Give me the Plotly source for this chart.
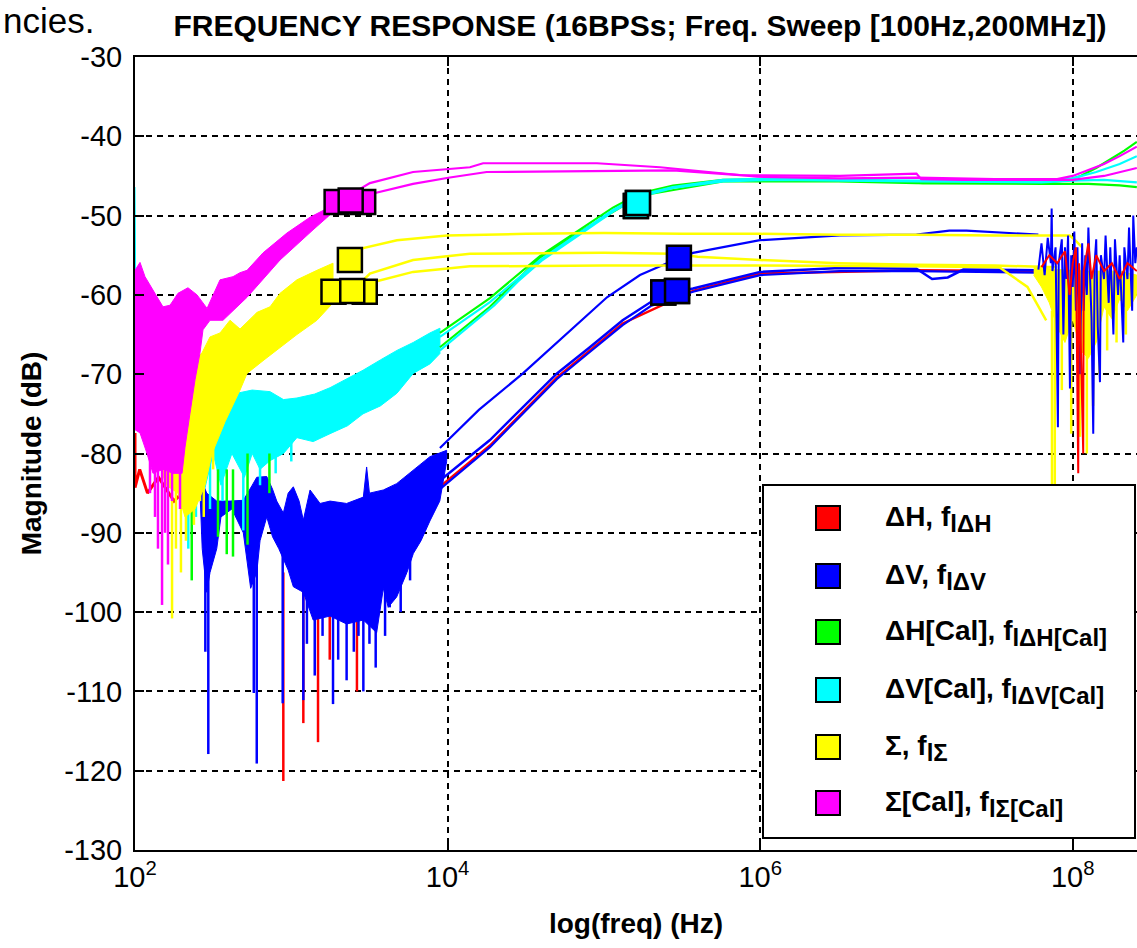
import plotly.graph_objects as go

# ---------------- data: log10(frequency / Hz) and magnitude (dB) ----------------
# Sigma[Cal] (magenta)
mag_band_lf = [2.0, 2.032, 2.064, 2.115, 2.179, 2.224, 2.275, 2.339, 2.397, 2.461, 2.499, 2.544,
               2.627, 2.672, 2.717, 2.819, 2.972, 3.12, 3.248,
               3.248, 3.139, 2.928, 2.717, 2.563, 2.48, 2.435, 2.416, 2.384, 2.352, 2.32, 2.301,
               2.243, 2.179, 2.115, 2.077, 2.032, 2.0]
mag_band_db = [-56.9, -55.9, -57.7, -59.4, -61.5, -61.3, -59.8, -59.1, -60.0, -61.7, -60.0, -58.1,
               -57.7, -57.2, -56.9, -54.7, -52.2, -50.2, -48.9,
               -49.9, -51.8, -55.6, -60.3, -63.2, -63.2, -64.4, -67.3, -70.7, -74.9, -79.2, -82.5,
               -82.5, -82.0, -82.5, -80.0, -77.4, -77.0]
mag_spk_lf = [2.096, 2.128, 2.147, 2.173, 2.192, 2.211, 2.237, 2.288]
mag_spk_base = [-80, -80, -80, -80, -80, -80, -80, -80]
mag_spk_tip = [-85, -88, -92, -99.1, -90, -94, -86, -87]
mag1_lf = [3.248, 3.503, 3.779, 4.143, 4.227, 4.956, 5.359, 5.762, 5.98, 6.51, 7.0, 7.5, 7.9, 8.0, 8.1, 8.2, 8.3, 8.41]
mag1_db = [-48.9, -45.9, -44.5, -43.9, -43.4, -43.4, -43.9, -44.7, -45.1, -45.3, -45.2, -45.4, -45.4, -45.0, -44.3, -43.5, -42.5, -41.3]
mag2_lf = [3.248, 3.503, 3.779, 4.015, 4.25, 5.442, 5.87, 6.51, 7.0, 7.03, 7.3, 8.0, 8.2, 8.41]
mag2_db = [-49.7, -47.3, -46.0, -45.2, -44.5, -44.3, -44.9, -45.0, -44.7, -45.4, -45.5, -45.5, -45.0, -44.0]
mag_mk_lf = [3.29, 3.46, 3.38]
mag_mk_db = [-48.3, -48.3, -48.1]

# Sigma (yellow)
yel_band_lf = [2.275, 2.32, 2.365, 2.429, 2.48, 2.544, 2.608, 2.672, 2.781, 2.864, 2.928, 3.036, 3.164, 3.267,
               3.267, 3.164, 3.036, 2.928, 2.819, 2.717, 2.672, 2.576, 2.493, 2.448, 2.384, 2.32, 2.275,
               2.2, 2.1, 2.03, 2.03, 2.1, 2.2]
yel_band_db = [-72.0, -70.5, -68.5, -67.3, -65.3, -64.8, -63.2, -64.3, -62.2, -61.5, -59.8, -58.1, -56.9, -56.0,
               -61.0, -63.2, -65.0, -66.6, -68.3, -69.9, -72.0, -76.0, -80.0, -84.0, -87.0, -88.0, -85.0,
               -84.0, -78.0, -75.0, -71.0, -72.0, -73.0]
yel_spk_lf = [2.237, 2.262, 2.294, 2.326, 2.377, 2.416, 2.44, 2.50]
yel_spk_base = [-84, -84, -84, -84, -84, -84, -82, -78]
yel_spk_tip = [-100.8, -92, -95, -91, -89, -86, -88, -82]
yel1_lf = [3.375, 3.46, 3.676, 3.996, 4.5, 5.0, 5.5, 6.0, 6.5, 7.0, 7.5, 7.98, 8.02, 8.06]
yel1_db = [-55.6, -54.1, -53.1, -52.5, -52.3, -52.2, -52.3, -52.3, -52.4, -52.4, -52.5, -52.5, -53.2, -54.0]
yel2_lf = [3.39, 3.503, 3.779, 4.143, 5.0, 5.45, 5.6, 6.0, 6.5, 7.0, 7.5, 7.9]
yel2_db = [-59.5, -57.3, -55.6, -54.8, -54.7, -54.8, -55.2, -55.6, -56.0, -56.2, -56.3, -56.5]
yel3_lf = [3.39, 3.503, 3.779, 4.143, 5.0, 6.0, 7.0, 7.53, 7.71, 7.83]
yel3_db = [-59.5, -58.5, -57.1, -56.4, -56.3, -56.3, -56.4, -56.5, -59.0, -63.2]
yel_hf_lf = [7.75, 7.9, 8.1, 8.3, 8.41, 8.41, 8.35, 8.3, 8.25, 8.2, 8.15, 8.1, 8.05, 8.0, 7.95, 7.9, 7.85, 7.8, 7.75]
yel_hf_db = [-56.5, -56.8, -57.0, -57.0, -57.5, -60.0, -62.0, -60.5, -63.0, -61.5, -66.0, -68.0, -67.0, -63.0,
             -66.0, -64.0, -61.0, -59.0, -57.5]
yel_hf_spk_lf = [7.867, 7.885, 7.93, 7.99, 8.046, 8.09, 8.13, 8.17, 8.22, 8.28, 8.34]
yel_hf_spk_base = [-62, -62, -64, -62, -66, -66, -64, -62, -61, -60, -60]
yel_hf_spk_tip = [-90, -86, -72, -77.5, -77.9, -80, -74, -70, -67, -66, -65]
yel_mk_lf = [3.375, 3.27, 3.47, 3.39]
yel_mk_db = [-55.6, -59.6, -59.6, -59.5]

# dV[Cal] (cyan) and dH[Cal] (green)
cyn_band_lf = [2.0, 2.005, 2.02, 2.05, 2.10, 2.2, 2.3, 2.4, 2.459, 2.52, 2.56, 2.653, 2.75, 2.864, 2.95, 3.036,
               3.15, 3.248, 3.36, 3.459, 3.57, 3.676, 3.78, 3.887, 3.951,
               3.951, 3.887, 3.78, 3.676, 3.57, 3.459, 3.36, 3.248, 3.14, 3.036, 2.95, 2.864, 2.80, 2.75,
               2.70, 2.62, 2.55, 2.50, 2.44, 2.40, 2.35, 2.30, 2.25, 2.2, 2.1, 2.05, 2.02, 2.005, 2.0]
cyn_band_db = [-46.4, -60.0, -72.4, -74.0, -77.0, -76.0, -75.0, -74.5, -74.9, -73.0, -72.4, -72.4, -72.0, -72.2,
               -73.2, -73.0, -72.5, -71.7, -70.5, -69.5, -68.2, -67.0, -66.0, -64.8, -64.2,
               -67.4, -68.7, -69.9, -72.4, -74.0, -75.0, -76.5, -77.5, -78.5, -78.0, -80.0, -80.9, -82.0,
               -80.0, -83.0, -80.0, -84.0, -80.0, -85.0, -82.0, -86.0, -84.0, -83.0, -82.0, -79.0, -77.5,
               -77.0, -70.0, -57.0]
cyn_spk_lf = [2.341, 2.39, 2.48, 2.56, 2.693, 2.80, 2.90, 3.0]
cyn_spk_base = [-82, -82, -80, -80, -80, -80, -78, -76]
cyn_spk_tip = [-92, -88, -87, -86, -89.7, -84, -82.5, -81]
grn_spk_lf = [2.363, 2.531, 2.587, 2.627, 2.72, 2.86]
grn_spk_base = [-84, -82, -82, -82, -80, -80]
grn_spk_tip = [-96, -90.5, -92.7, -93, -91.5, -85]
cyn1_lf = [3.951, 4.271, 4.591, 4.866, 5.058, 5.231, 5.442, 5.762, 6.082, 6.5, 7.0, 7.5, 7.8, 8.0, 8.15, 8.3, 8.41]
cyn1_db = [-65.3, -60.9, -55.6, -51.9, -49.3, -47.4, -46.4, -45.5, -45.3, -45.5, -45.6, -45.6, -45.6, -45.3, -44.5, -43.5, -42.5]
cyn2_lf = [3.951, 4.1, 4.3, 4.45, 4.6, 4.866, 5.058, 5.231, 5.442, 5.762, 6.082, 7.0, 7.8, 8.0, 8.2, 8.41]
cyn2_db = [-67.0, -64.6, -61.3, -58.3, -55.7, -52.1, -49.5, -47.6, -46.5, -45.7, -45.5, -45.7, -45.8, -45.6, -45.5, -45.8]
grn1_lf = [3.951, 4.271, 4.591, 4.866, 5.058, 5.231, 5.442, 5.762, 6.082, 6.8, 7.04, 7.5, 7.79, 7.95, 8.05, 8.15, 8.25, 8.33, 8.41]
grn1_db = [-64.8, -60.4, -55.1, -51.5, -49.0, -47.2, -46.2, -45.5, -45.4, -45.6, -45.9, -45.9, -45.9, -45.6, -45.0, -44.0, -42.8, -41.8, -40.7]
grn2_lf = [3.951, 4.271, 4.591, 4.866, 5.231, 5.762, 6.5, 7.0, 7.8, 8.1, 8.3, 8.41]
grn2_db = [-66.6, -61.5, -55.3, -51.8, -47.5, -45.7, -45.7, -45.9, -46.0, -46.0, -46.2, -46.4]
cyn_mk_lf = [5.205, 5.218]
cyn_mk_db = [-48.8, -48.4]

# dV (blue) and dH (red)
blu_band_lf = [2.40, 2.416, 2.459, 2.523, 2.608, 2.693, 2.75, 2.779, 2.843, 2.88, 2.907, 2.949, 2.98, 3.013, 3.05,
               3.077, 3.12, 3.184, 3.248, 3.354, 3.461, 3.482, 3.50, 3.589, 3.674, 3.781, 3.887, 3.994,
               3.994, 3.95, 3.887, 3.83, 3.781, 3.74, 3.674, 3.62, 3.589, 3.546, 3.461, 3.354, 3.248, 3.14,
               3.077, 3.013, 2.98, 2.92, 2.88, 2.843, 2.80, 2.779, 2.74, 2.693, 2.62, 2.55, 2.523, 2.48,
               2.459, 2.43, 2.416, 2.40]
blu_band_db = [-84.0, -82.9, -85.0, -86.0, -86.0, -85.9, -84.0, -83.0, -82.9, -84.5, -86.0, -87.5, -85.0, -84.2,
               -86.0, -88.4, -84.6, -86.3, -86.0, -86.3, -85.5, -81.7, -85.0, -84.6, -83.8, -82.1, -80.4, -79.6,
               -81.0, -86.0, -88.5, -91.0, -92.6, -95.0, -98.1, -99.4, -97.0, -102.6, -101.0, -101.5, -100.5,
               -101.0, -97.5, -96.8, -94.7, -92.0, -90.5, -88.0, -91.0, -95.0, -97.0, -90.0, -87.0, -88.0,
               -92.0, -95.0, -97.5, -92.0, -85.0, -84.0]
blu_spk_lf = [2.45, 2.469, 2.76, 2.779, 2.945, 3.077, 3.10, 3.15, 3.20, 3.267, 3.30, 3.354, 3.40, 3.43,
              3.461, 3.50, 3.54, 3.60, 3.63, 3.70, 3.76]
blu_spk_base = [-92, -92, -90, -90, -92, -95, -98, -98, -98, -98, -98, -98, -98, -98, -98, -98, -98, -96, -95, -94, -90]
blu_spk_tip = [-105, -117.9, -110.2, -119.1, -111.5, -111.1, -104, -108, -103, -111.6, -106, -108.6, -105, -103,
               -110, -104, -107, -103, -99.4, -100, -96]
red_spk_lf = [2.949, 3.077, 3.171, 3.246, 3.42]
red_spk_base = [-95, -95, -98, -98, -98]
red_spk_tip = [-121.3, -114, -116.4, -106, -110]
red_edge_lf = [2.0, 2.0, 2.03, 2.08, 2.15, 2.25, 2.35, 2.416]
red_edge_db = [-77.4, -84.3, -82.0, -85.0, -83.0, -86.0, -84.0, -84.0]
blu1_lf = [3.951, 4.2, 4.482, 4.70, 5.02, 5.231, 5.404, 5.57, 5.999, 6.51, 7.0, 7.21, 7.32, 7.78]
blu1_db = [-79.3, -74.5, -69.9, -66.0, -60.3, -57.5, -56.0, -54.7, -53.1, -52.5, -52.4, -51.9, -51.9, -52.4]
blu2_lf = [3.887, 3.951, 4.271, 4.70, 4.91, 5.12, 5.30, 5.468, 5.57, 5.999, 6.51, 7.0, 7.1, 7.2, 7.3, 7.78]
blu2_db = [-86.3, -83.4, -78.3, -69.9, -66.6, -63.2, -60.9, -59.6, -59.2, -57.1, -56.6, -56.7, -58.0, -57.8, -56.8, -56.9]
blu3_lf = [3.887, 3.951, 4.271, 4.70, 4.91, 5.12, 5.30, 5.57, 5.999, 6.51, 7.0, 7.78]
blu3_db = [-87.5, -84.5, -79.2, -70.6, -67.2, -63.8, -61.4, -59.6, -57.5, -57.0, -57.0, -57.2]
red1_lf = [3.887, 3.951, 4.271, 4.70, 5.12, 5.57, 6.0, 7.0, 7.78]
red1_db = [-87.0, -84.2, -79.0, -70.4, -63.6, -59.5, -57.3, -56.9, -57.0]
blu_hf_lf = [7.78, 7.80, 7.82, 7.84, 7.86, 7.865, 7.87, 7.89, 7.905, 7.91, 7.93, 7.94, 7.95, 7.96, 7.97, 7.982,
             7.99, 8.00, 8.01, 8.02, 8.03, 8.045, 8.06, 8.07, 8.08, 8.09, 8.10, 8.12, 8.131, 8.14, 8.15, 8.16,
             8.174, 8.18, 8.20, 8.21, 8.23, 8.24, 8.26, 8.27, 8.29, 8.30, 8.323, 8.33, 8.35, 8.36, 8.38, 8.387,
             8.40, 8.41]
blu_hf_db = [-56.8, -53.5, -57.5, -52.8, -56.0, -49.1, -57.0, -54.0, -76.7, -56.0, -53.0, -65.0, -54.0, -58.0,
             -52.5, -71.8, -55.0, -59.0, -52.0, -62.0, -54.0, -70.0, -53.5, -62.0, -55.0, -60.0, -51.5, -63.0,
             -77.5, -56.0, -53.0, -64.0, -71.0, -55.0, -58.0, -52.5, -61.0, -54.0, -65.0, -53.0, -60.0, -55.0,
             -66.0, -54.0, -58.0, -51.5, -62.0, -50.0, -56.0, -54.0]
red_hf_lf = [7.80, 7.85, 7.90, 7.95, 7.98, 8.00, 8.02, 8.035, 8.04, 8.067, 8.07, 8.10, 8.12, 8.15, 8.20, 8.25, 8.30, 8.35, 8.41]
red_hf_db = [-56.5, -55.0, -56.0, -54.5, -60.0, -56.0, -54.0, -82.5, -56.0, -80.0, -57.0, -53.5, -58.0, -55.0,
             -57.0, -56.0, -58.0, -56.0, -57.0]
blu_mk_lf = [5.48, 5.38, 5.468]
blu_mk_db = [-55.3, -59.7, -59.5]
red_mk_lf = [5.38, 5.468]
red_mk_db = [-59.7, -59.5]

legend_main = ["ΔH, f", "ΔV, f", "ΔH[Cal], f", "ΔV[Cal], f", "Σ, f", "Σ[Cal], f"]
legend_sub = ["lΔH", "lΔV", "lΔH[Cal]", "lΔV[Cal]", "lΣ", "lΣ[Cal]"]
x_tick_exp = [2, 4, 6, 8]
y_ticks = [-130, -120, -110, -100, -90, -80, -70, -60, -50, -40, -30]

RED, BLUE, GREEN, CYAN, YELLOW, MAGENTA = "#FF0000", "#0000FF", "#00FF00", "#00FFFF", "#FFFF00", "#FF00FF"
SERIES_COLORS = [RED, BLUE, GREEN, CYAN, YELLOW, MAGENTA]
FONT = "Liberation Sans, Arial, Helvetica, sans-serif"

# plot-area geometry in pixels (canvas 1137 x 948)
L_PX, R_PX, T_PX, B_PX = 135, 1137, 57, 850


def hz(lf):
    return [10 ** v for v in lf]


def px_x(p):
    return (p - L_PX) / (R_PX - L_PX)


def px_y(p):
    return (B_PX - p) / (B_PX - T_PX)


fig = go.Figure()


def line(lf, db, color, width=2.2):
    fig.add_trace(go.Scatter(x=hz(lf), y=db, mode="lines", line=dict(color=color, width=width),
                             showlegend=False, hoverinfo="skip"))


def band(lf, db, color):
    fig.add_trace(go.Scatter(x=hz(lf), y=db, mode="lines", fill="toself", fillcolor=color,
                             line=dict(color=color, width=1), showlegend=False, hoverinfo="skip"))


def spikes(lf, base, tip, color, width=2.5):
    xs, ys = [], []
    for f, b, t in zip(lf, base, tip):
        xs += [10 ** f, 10 ** f, None]
        ys += [b, t, None]
    fig.add_trace(go.Scatter(x=xs, y=ys, mode="lines", line=dict(color=color, width=width),
                             showlegend=False, hoverinfo="skip", connectgaps=False))


def markers(lf, db, color):
    fig.add_trace(go.Scatter(x=hz(lf), y=db, mode="markers",
                             marker=dict(symbol="square", size=24, color=color, line=dict(color="black", width=2.5)),
                             showlegend=False, hoverinfo="skip"))


# red (dH)
line(red_edge_lf, red_edge_db, RED, 3)
spikes(red_spk_lf, red_spk_base, red_spk_tip, RED)
line(red1_lf, red1_db, RED, 2.5)
# blue (dV)
band(blu_band_lf, blu_band_db, BLUE)
spikes(blu_spk_lf, blu_spk_base, blu_spk_tip, BLUE)
line(blu1_lf, blu1_db, BLUE, 2.2)
line(blu3_lf, blu3_db, BLUE, 2.2)
line(blu2_lf, blu2_db, BLUE, 2.5)
# green (dH[Cal]) and cyan (dV[Cal])
band(cyn_band_lf, cyn_band_db, CYAN)
spikes(grn_spk_lf, grn_spk_base, grn_spk_tip, GREEN)
line(grn1_lf, grn1_db, GREEN, 2.2)
line(grn2_lf, grn2_db, GREEN, 2.2)
spikes(cyn_spk_lf, cyn_spk_base, cyn_spk_tip, CYAN)
line(cyn2_lf, cyn2_db, CYAN, 2.2)
line(cyn1_lf, cyn1_db, CYAN, 2.2)
# yellow (Sigma)
band(yel_band_lf, yel_band_db, YELLOW)
spikes(yel_spk_lf, yel_spk_base, yel_spk_tip, YELLOW)
band(yel_hf_lf, yel_hf_db, YELLOW)
spikes(yel_hf_spk_lf, yel_hf_spk_base, yel_hf_spk_tip, YELLOW)
line(yel1_lf, yel1_db, YELLOW, 2.5)
line(yel2_lf, yel2_db, YELLOW, 2.5)
line(yel3_lf, yel3_db, YELLOW, 2.5)
# high-frequency noise of dH / dV (drawn over the yellow band as in the original)
line(blu_hf_lf, blu_hf_db, BLUE, 2)
line(red_hf_lf, red_hf_db, RED, 2)
# magenta (Sigma[Cal])
band(mag_band_lf, mag_band_db, MAGENTA)
spikes(mag_spk_lf, mag_spk_base, mag_spk_tip, MAGENTA)
line(mag1_lf, mag1_db, MAGENTA, 2.2)
line(mag2_lf, mag2_db, MAGENTA, 2.2)

# cutoff markers
markers(red_mk_lf, red_mk_db, RED)
markers(blu_mk_lf, blu_mk_db, BLUE)
markers(cyn_mk_lf, cyn_mk_db, GREEN)
markers(cyn_mk_lf, cyn_mk_db, CYAN)
markers(yel_mk_lf, yel_mk_db, YELLOW)
markers(mag_mk_lf, mag_mk_db, MAGENTA)

# ---- legend box (MATLAB style: large swatches, full-size bold subscripts) ----
LEG_L, LEG_R, LEG_T, LEG_B = 763, 1135, 485, 838
ROW_Y = [518, 576, 632, 690, 747, 803]
SW_L, SW_R, TXT_X = 816, 840, 883
fig.add_shape(type="rect", xref="paper", yref="paper", layer="above",
              x0=px_x(LEG_L), x1=px_x(LEG_R), y0=px_y(LEG_B), y1=px_y(LEG_T),
              fillcolor="white", line=dict(color="black", width=2))
for yc, m, s, col in zip(ROW_Y, legend_main, legend_sub, SERIES_COLORS):
    fig.add_shape(type="rect", xref="paper", yref="paper", layer="above",
                  x0=px_x(SW_L), x1=px_x(SW_R), y0=px_y(yc + 12), y1=px_y(yc - 12),
                  fillcolor=col, line=dict(color="black", width=2))
    fig.add_annotation(text=m + "<sub><span style='font-size:24px'>" + s + "</span></sub>",
                       xref="paper", yref="paper", x=px_x(TXT_X), y=px_y(yc + 1),
                       xanchor="left", yanchor="middle", showarrow=False,
                       font=dict(family=FONT, size=28, weight="bold", color="black"))

fig.update_layout(
    width=1137, height=948,
    margin=dict(l=L_PX, r=1137 - R_PX, t=T_PX, b=948 - B_PX),
    paper_bgcolor="white", plot_bgcolor="white",
    font=dict(family=FONT, size=29, color="black"),
    title=dict(text="FREQUENCY RESPONSE (16BPSs; Freq. Sweep [100Hz,200MHz])",
               font=dict(family=FONT, size=30, weight="bold"),
               x=640 / 1137, xanchor="center", xref="container",
               y=1 - 25 / 948, yanchor="middle", yref="container"),
    showlegend=False,
)
fig.update_xaxes(type="log", range=[2, 8.411],
                 tickvals=[10 ** e for e in x_tick_exp],
                 ticktext=["10<sup>%d</sup>" % e for e in x_tick_exp],
                 ticks="inside", ticklen=9, tickwidth=1.5, tickcolor="black",
                 showline=True, linewidth=2, linecolor="black", mirror="ticks",
                 showgrid=True, gridcolor="black", gridwidth=1.5, griddash="6px,5px",
                 zeroline=False,
                 title=dict(text="log(freq) (Hz)", font=dict(family=FONT, size=28, weight="bold"), standoff=22))
fig.update_yaxes(range=[-130, -30], tickvals=y_ticks, ticktext=["%d" % v for v in y_ticks],
                 ticks="inside", ticklen=9, tickwidth=1.5, tickcolor="black",
                 showline=True, linewidth=2, linecolor="black", mirror=False,
                 showgrid=True, gridcolor="black", gridwidth=1.5, griddash="6px,5px",
                 zeroline=False, ticklabelstandoff=5,
                 title=dict(text="Magnitude (dB)", font=dict(family=FONT, size=28, weight="bold"), standoff=14))

fig.add_annotation(text="ncies.", xref="paper", yref="paper", x=px_x(1), y=px_y(20),
                   xanchor="left", yanchor="middle", showarrow=False,
                   font=dict(family=FONT, size=35, color="black"))

fig.write_html("out.html")
